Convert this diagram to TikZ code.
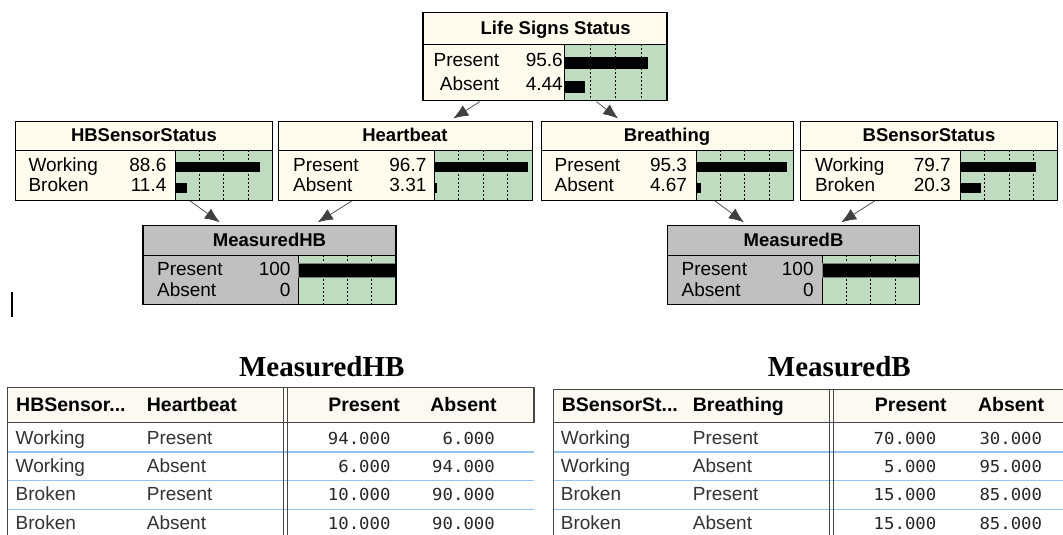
\documentclass[tikz,border=0pt]{standalone}
\usepackage{fontspec}
\setmainfont{Liberation Sans}
\newfontfamily\tabtitlefont{Liberation Serif}
\newfontfamily\numfont[FakeStretch=1.05]{DejaVu Sans Mono}
\usepackage{xcolor}
\usetikzlibrary{arrows.meta,fit}
\definecolor{netcream}{RGB}{255,252,238}
\definecolor{netgreen}{RGB}{192,220,192}
\definecolor{netgray}{RGB}{192,192,192}
\definecolor{hdrcream}{RGB}{252,249,242}
\definecolor{rowblue}{RGB}{150,195,240}
\definecolor{tblgray}{RGB}{70,70,70}

\begin{document}
\begin{tikzpicture}[x=1pt,y=-1pt,
	ttl/.style={anchor=base,inner sep=0,font=\fontsize{18.5}{18.5}\selectfont\bfseries},
	st/.style={anchor=base west,inner sep=0,font=\fontsize{19}{19}\selectfont},
	val/.style={anchor=base east,inner sep=0,font=\fontsize{19}{19}\selectfont},
	tick/.style={dash pattern=on 2pt off 2pt,line width=0.8pt},
	sep/.style={line width=0.8pt},
	frame/.style={draw,line width=1.3pt},
	bar/.style={fill=black},
	arr/.style={-{Latex[length=15pt,width=12pt]},line width=0.7pt,draw=black!75},
	tabtitle/.style={anchor=base,inner sep=0,font=\tabtitlefont\bfseries\fontsize{29}{29}\selectfont},
	hdr/.style={anchor=base west,inner sep=0,font=\fontsize{19.5}{19.5}\selectfont\bfseries},
	cell/.style={anchor=base west,inner sep=0,text=black!80,font=\fontsize{19}{19}\selectfont},
	num/.style={anchor=base east,inner sep=0,text=black!85,font=\numfont\fontsize{16.5}{16.5}\selectfont},
	tblline/.style={draw=tblgray,line width=1.3pt},
	rowline/.style={draw=rowblue,line width=1.2pt}]
	\fill[white] (0,0) rectangle (1063,535);
	\useasboundingbox (0,0) rectangle (1063,535);

	% network nodes: fills, grid and dividers
	\foreach \nm/\xl/\xd/\xr/\yt/\ym/\yb/\col in {
		ls/423.3/564.3/666.7/12.7/44.3/100/netcream,
		hbs/15.5/175.2/272.4/121.7/150/200/netcream,
		hb/278.6/434.5/532/121.7/150/200/netcream,
		br/541.4/696.6/793.1/121.7/150/200/netcream,
		bs/801/960.7/1057.2/121.7/150/200/netcream,
		mhb/143.1/298.6/395.9/225.5/255/304/netgray,
		mb/667.6/822.4/919.3/225.5/255/304/netgray}{
		\fill[\col] (\xl,\yt) rectangle (\xr,\yb);
		\fill[netgreen] (\xd,\ym) rectangle (\xr,\yb);
		\foreach \k in {1,2,3}
			\draw[tick] ({\xd+\k*(\xr-\xd)/4},\ym) -- ({\xd+\k*(\xr-\xd)/4},\yb);
		\draw[sep] (\xl,\ym) -- (\xr,\ym) (\xd,\ym) -- (\xd,\yb);
		\node[inner sep=0,fit={(\xl,\yt) (\xr,\yb)}] (\nm) {};
	}

	% belief bars
	\fill[bar] (564.3,56.7) rectangle (648.3,69);
	\fill[bar] (564.3,81) rectangle (585,93.3);
	\fill[bar] (175.2,161.7) rectangle (260,171.7);
	\fill[bar] (175.2,182.7) rectangle (186.7,192.7);
	\fill[bar] (434.5,161.7) rectangle (527.6,171.7);
	\fill[bar] (434.5,182.7) rectangle (437.2,192.7);
	\fill[bar] (696.6,161.7) rectangle (787.2,171.7);
	\fill[bar] (696.6,182.7) rectangle (701,192.7);
	\fill[bar] (960.7,161.7) rectangle (1036.2,171.7);
	\fill[bar] (960.7,182.7) rectangle (981,192.7);
	\filldraw[bar,draw=gray] (298.6,263.3) rectangle (395.9,276.7);
	\filldraw[bar,draw=gray] (822.4,263.3) rectangle (919.3,276.7);

	\foreach \nm in {ls,hbs,hb,br,bs,mhb,mb}
		\draw[frame] (\nm.north west) rectangle (\nm.south east);

	% titles and states
	\node[ttl] (ls-t) at (555.7,35) {Life Signs Status};
	\node[val] (ls-s1) at (499.3,66.7) {Present};
	\node[val] (ls-s2) at (499.3,90.7) {Absent};
	\node[val] (ls-v1) at (563,66.7) {95.6};
	\node[val] (ls-v2) at (563,90.7) {4.44};

	\node[ttl] (hbs-t) at (144,141.7) {HBSensorStatus};
	\node[st] (hbs-s1) at (28.3,171.7) {Working};
	\node[st] (hbs-s2) at (28.3,191.7) {Broken};
	\node[val] (hbs-v1) at (166.6,171.7) {88.6};
	\node[val] (hbs-v2) at (166.6,191.7) {11.4};

	\node[ttl] (hb-t) at (405,141.7) {Heartbeat};
	\node[st] (hb-s1) at (293,171.7) {Present};
	\node[st] (hb-s2) at (293,191.7) {Absent};
	\node[val] (hb-v1) at (426.6,171.7) {96.7};
	\node[val] (hb-v2) at (426.6,191.7) {3.31};

	\node[ttl] (br-t) at (667,141.7) {Breathing};
	\node[st] (br-s1) at (554.5,171.7) {Present};
	\node[st] (br-s2) at (554.5,191.7) {Absent};
	\node[val] (br-v1) at (687.2,171.7) {95.3};
	\node[val] (br-v2) at (687.2,191.7) {4.67};

	\node[ttl] (bs-t) at (929,141.7) {BSensorStatus};
	\node[st] (bs-s1) at (814.8,171.7) {Working};
	\node[st] (bs-s2) at (814.8,191.7) {Broken};
	\node[val] (bs-v1) at (951,171.7) {79.7};
	\node[val] (bs-v2) at (951,191.7) {20.3};

	\node[ttl] (mhb-t) at (269.5,246) {MeasuredHB};
	\node[st] (mhb-s1) at (156.9,275) {Present};
	\node[st] (mhb-s2) at (156.9,296) {Absent};
	\node[val] (mhb-v1) at (290.7,275) {100};
	\node[val] (mhb-v2) at (290.7,296) {0};

	\node[ttl] (mb-t) at (793.5,246) {MeasuredB};
	\node[st] (mb-s1) at (681.4,275) {Present};
	\node[st] (mb-s2) at (681.4,296) {Absent};
	\node[val] (mb-v1) at (813.8,275) {100};
	\node[val] (mb-v2) at (813.8,296) {0};

	% links
	\draw[arr] ([xshift=56.7pt,yshift=-1.5pt]ls.south west) -- ([xshift=174.8pt,yshift=3pt]hb.north west);
	\draw[arr] ([xshift=173.4pt,yshift=-1.5pt]ls.south west) -- ([xshift=76.9pt,yshift=3pt]br.north west);
	\draw[arr] ([xshift=174.5pt,yshift=-0.5pt]hbs.south west) -- ([xshift=76.9pt,yshift=3pt]mhb.north west);
	\draw[arr] ([xshift=73.8pt,yshift=-0.5pt]hb.south west) -- ([xshift=174.9pt,yshift=3pt]mhb.north west);
	\draw[arr] ([xshift=173.4pt,yshift=-0.5pt]br.south west) -- ([xshift=76.5pt,yshift=3pt]mb.north west);
	\draw[arr] ([xshift=74.2pt,yshift=-0.5pt]bs.south west) -- ([xshift=173.8pt,yshift=3pt]mb.north west);

	\draw[line width=2pt] (11.7,291.7) -- (11.7,316.7);

	% table MeasuredHB
	\node[tabtitle] (tab1-t) at (321.7,376) {MeasuredHB};
	\fill[hdrcream] (7.3,387.3) rectangle (534,422.7);
	\foreach \y in {452,480.5,509.5}
		\draw[rowline] (7.3,\y) -- (534,\y);
	\draw[tblline] (7.3,535) -- (7.3,387.3) -- (534,387.3) -- (534,422.7) -- (7.3,422.7);
	\draw[tblline,line width=1pt] (283.3,387.3) -- (283.3,535) (287.3,387.3) -- (287.3,535);
	\node[hdr] (tab1-h1) at (16,411.7) {HBSensor...};
	\node[hdr] (tab1-h2) at (146.7,411.7) {Heartbeat};
	\node[hdr,anchor=base east] (tab1-h3) at (400,411.7) {Present};
	\node[hdr,anchor=base east] (tab1-h4) at (496.7,411.7) {Absent};
	\foreach \y/\sa/\sb/\pa/\pb [count=\i] in {444/Working/Present/94.000/6.000,
		472.7/Working/Absent/6.000/94.000, 500.7/Broken/Present/10.000/90.000,
		529.3/Broken/Absent/10.000/90.000}{
		\node[cell] (tab1-a\i) at (15.5,\y) {\sa};
		\node[cell] (tab1-b\i) at (146.7,\y) {\sb};
		\node[num] (tab1-p\i) at (390.7,\y) {\pa};
		\node[num] (tab1-q\i) at (495,\y) {\pb};
	}

	% table MeasuredB
	\node[tabtitle] (tab2-t) at (839.4,376) {MeasuredB};
	\fill[hdrcream] (553.3,389.3) rectangle (1063,422.7);
	\foreach \y in {452,480.5,509.5}
		\draw[rowline] (553.3,\y) -- (1063,\y);
	\draw[tblline] (553.3,535) -- (553.3,389.3) -- (1063,389.3) (553.3,422.7) -- (1063,422.7);
	\draw[tblline,line width=1pt] (829.3,389.3) -- (829.3,535) (833.3,389.3) -- (833.3,535);
	\node[hdr] (tab2-h1) at (561.7,411.7) {BSensorSt...};
	\node[hdr] (tab2-h2) at (692.7,411.7) {Breathing};
	\node[hdr,anchor=base east] (tab2-h3) at (946.7,411.7) {Present};
	\node[hdr,anchor=base east] (tab2-h4) at (1044.3,411.7) {Absent};
	\foreach \y/\sa/\sb/\pa/\pb [count=\i] in {444/Working/Present/70.000/30.000,
		472.7/Working/Absent/5.000/95.000, 500.7/Broken/Present/15.000/85.000,
		529.3/Broken/Absent/15.000/85.000}{
		\node[cell] (tab2-a\i) at (560.7,\y) {\sa};
		\node[cell] (tab2-b\i) at (692.7,\y) {\sb};
		\node[num] (tab2-p\i) at (936.5,\y) {\pa};
		\node[num] (tab2-q\i) at (1042.3,\y) {\pb};
	}
\end{tikzpicture}
\end{document}
